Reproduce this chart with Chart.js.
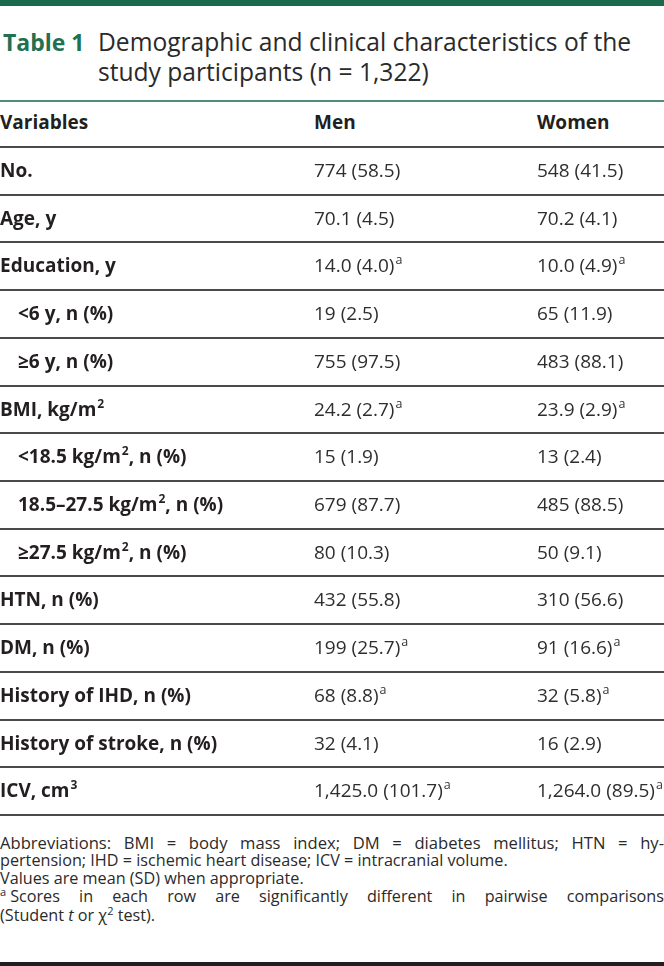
<!DOCTYPE html>
<html>
<head>
<meta charset="utf-8">
<script src="https://cdn.jsdelivr.net/npm/chart.js@4.4.1/dist/chart.umd.min.js"></script>
<style>
  html, body { margin: 0; padding: 0; background: #fff; }
  body { width: 664px; height: 966px; position: relative; overflow: hidden;
         font-family: "Open Sans", "Noto Sans", sans-serif; color: #231f20; }
  #topbar { position: absolute; left: 0; top: 0; width: 664px; height: 6px; background: #1b6a4b; }
  #title { position: absolute; left: 0; top: 27px; width: 664px; line-height: 30px; }
  #title .lab { position: absolute; left: 3px; top: 0; font-weight: 700; color: #1f7150; font-size: 23px; }
  #title .txt { position: absolute; left: 98px; top: 0; color: #2a2a2a; font-size: 24.6px; white-space: nowrap; }
  #titleRule { position: absolute; left: 0; top: 100px; width: 664px; height: 2px; background: #4f8f77; }
  #header { position: absolute; left: 0; top: 102px; width: 664px; height: 45px; font-weight: 700; font-size: 19px; line-height: 26px; }
  .cell { position: absolute; white-space: nowrap; }
  #gridWrap { position: absolute; left: 0; top: 146px; width: 664px; height: 670px; }
  #rows { position: absolute; left: 0; top: 147px; width: 664px; }
  .row { position: absolute; left: 0; width: 664px; font-size: 19px; line-height: 26px; }
  .row .lbl { font-weight: 700; }
  .row .val { color: #2e2e2e; }
  sup.s { font-size: 12px; vertical-align: 0; position: relative; top: -8px; margin-left: 1px; }
  sup.a { font-size: 12.5px; vertical-align: 0; position: relative; top: -8px; color: #333; margin-left: 1px; }
  #notes { position: absolute; left: 0; top: 834px; width: 664px; font-size: 16.2px; line-height: 17.9px; color: #2a2a2a; }
  #notes .j { text-align: justify; text-align-last: justify; white-space: normal; }
  #notes .l1 { font-size: 16.6px; }
  #notes sup { font-size: 11px; vertical-align: 0; position: relative; top: -6px; }
  #bottombar { position: absolute; left: 0; top: 962px; width: 664px; height: 4px; background: #231f20; }
</style>
</head>
<body>
<div id="topbar"></div>
<div id="title">
  <span class="lab">Table 1</span>
  <div class="txt">Demographic and clinical characteristics of the<br>study participants (n = 1,322)</div>
</div>
<div id="titleRule"></div>
<div id="header"></div>
<div id="gridWrap"><canvas id="grid"></canvas></div>
<div id="rows"></div>
<div id="notes">
  <div class="j l1">Abbreviations: BMI = body mass index; DM = diabetes mellitus; HTN = hy-</div>
  <div>pertension; IHD = ischemic heart disease; ICV = intracranial volume.</div>
  <div>Values are mean (SD) when appropriate.</div>
  <div class="j"><sup>a</sup><span style="margin-left:4px">Scores</span> in each row are significantly different in pairwise comparisons</div>
  <div>(Student <i>t</i> or χ<sup>2</sup> test).</div>
</div>
<div id="bottombar"></div>

<script>
// ---- data ----
const columnHeaders = ["Variables", "Men", "Women"];
const rowLabels = [
  "No.", "Age, y", "Education, y", "<6 y, n (%)", "≥6 y, n (%)",
  "BMI, kg/m^2", "<18.5 kg/m^2, n (%)", "18.5–27.5 kg/m^2, n (%)", "≥27.5 kg/m^2, n (%)",
  "HTN, n (%)", "DM, n (%)", "History of IHD, n (%)", "History of stroke, n (%)", "ICV, cm^3"
];
const indented = [false, false, false, true, true, false, true, true, true, false, false, false, false, false];
const menValues = [
  "774 (58.5)", "70.1 (4.5)", "14.0 (4.0)", "19 (2.5)", "755 (97.5)",
  "24.2 (2.7)", "15 (1.9)", "679 (87.7)", "80 (10.3)",
  "432 (55.8)", "199 (25.7)", "68 (8.8)", "32 (4.1)", "1,425.0 (101.7)"
];
const womenValues = [
  "548 (41.5)", "70.2 (4.1)", "10.0 (4.9)", "65 (11.9)", "483 (88.1)",
  "23.9 (2.9)", "13 (2.4)", "485 (88.5)", "50 (9.1)",
  "310 (56.6)", "91 (16.6)", "32 (5.8)", "16 (2.9)", "1,264.0 (89.5)"
];
const significant = [false, false, true, false, false, true, false, false, false, false, true, true, false, true];

// ---- helpers ----
function esc(s) { return s.replace(/&/g, "&amp;").replace(/</g, "&lt;").replace(/>/g, "&gt;"); }
function labelHtml(s) { return esc(s).replace(/\^(\d)/g, '<sup class="s">$1</sup>'); }

const COL_X = [0, 314, 537];
const ROW_H = 47.71;

// header
const header = document.getElementById("header");
columnHeaders.forEach((h, i) => {
  const d = document.createElement("div");
  d.className = "cell";
  d.style.left = COL_X[i] + "px";
  d.style.top = "7px";
  d.textContent = h;
  header.appendChild(d);
});

// rows
const rows = document.getElementById("rows");
rowLabels.forEach((lab, i) => {
  const r = document.createElement("div");
  r.className = "row";
  r.style.top = (i * ROW_H) + "px";
  r.style.height = ROW_H + "px";
  const ty = 10;
  const c0 = document.createElement("div");
  c0.className = "cell lbl";
  c0.style.left = (indented[i] ? 18 : 0) + "px";
  c0.style.top = ty + "px";
  c0.innerHTML = labelHtml(lab);
  const c1 = document.createElement("div");
  c1.className = "cell val";
  c1.style.left = COL_X[1] + "px";
  c1.style.top = ty + "px";
  c1.innerHTML = esc(menValues[i]) + (significant[i] ? '<sup class="a">a</sup>' : "");
  const c2 = document.createElement("div");
  c2.className = "cell val";
  c2.style.left = COL_X[2] + "px";
  c2.style.top = ty + "px";
  c2.innerHTML = esc(womenValues[i]) + (significant[i] ? '<sup class="a">a</sup>' : "");
  r.appendChild(c0); r.appendChild(c1); r.appendChild(c2);
  rows.appendChild(r);
});

// ---- row rules drawn by Chart.js (category scale grid between rows) ----
const canvas = document.getElementById("grid");
canvas.style.width = "664px";
canvas.style.height = "670px";
new Chart(canvas, {
  type: "bar",
  data: { labels: rowLabels, datasets: [{ data: rowLabels.map(() => null) }] },
  options: {
    indexAxis: "y",
    responsive: false,
    maintainAspectRatio: false,
    animation: false,
    events: [],
    layout: { padding: { top: 1, bottom: 1, left: 0, right: 0 } },
    plugins: { legend: { display: false }, tooltip: { enabled: false } },
    scales: {
      y: {
        type: "category",
        offset: true,
        ticks: { display: false },
        border: { display: false },
        grid: { offset: true, color: "#4a4a4a", lineWidth: 2, drawTicks: false }
      },
      x: { display: false, min: 0, max: 1 }
    }
  }
});
</script>
</body>
</html>
